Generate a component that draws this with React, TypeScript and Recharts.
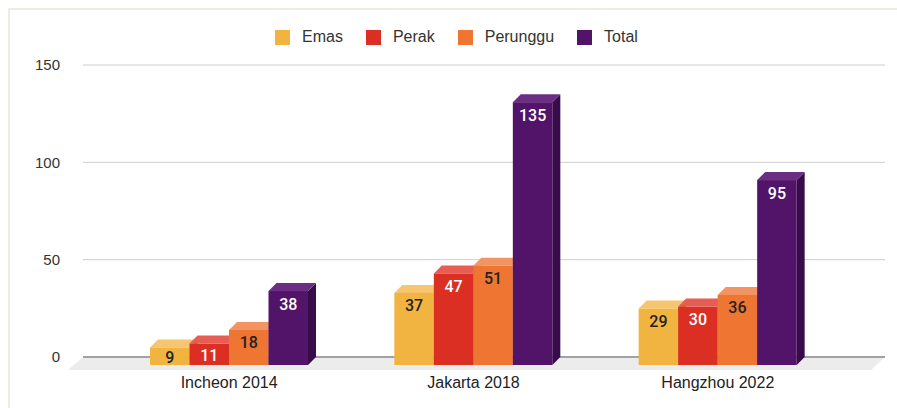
import { BarChart, Bar, XAxis, YAxis, CartesianGrid, ReferenceLine } from "recharts";

const games = ["Incheon 2014", "Jakarta 2018", "Hangzhou 2022"];
const emas = [9, 37, 29];
const perak = [11, 47, 30];
const perunggu = [18, 51, 36];
const total = [38, 135, 95];
const yTicks = [0, 50, 100, 150];

const data = games.map((game, i) => ({
  game,
  emas: emas[i],
  perak: perak[i],
  perunggu: perunggu[i],
  total: total[i],
}));

const DEPTH = 8;

const series = [
  { key: "emas", name: "Emas", front: "#f2b441", top: "#f5c66f", side: "#c78d2b", text: "#222222" },
  { key: "perak", name: "Perak", front: "#dc2f24", top: "#e65d53", side: "#a9241b", text: "#ffffff" },
  { key: "perunggu", name: "Perunggu", front: "#ee7532", top: "#f29562", side: "#bd5b24", text: "#222222" },
  { key: "total", name: "Total", front: "#521468", top: "#6b2e83", side: "#380c4a", text: "#ffffff" },
];

type S = (typeof series)[number];

// 3d box: recharts gives the back plane, the front face is pushed down-left by DEPTH
const makeBox = (s: S) => (props: any) => {
  const { x, y, width, height, payload } = props;
  const d = DEPTH;
  const fx = x - d;
  const fy = y + d;
  const value = payload[s.key];
  const ly = fy + Math.min(13, height / 2 + 1);
  return (
    <g>
      <polygon
        points={`${fx + width},${fy} ${x + width},${y} ${x + width},${y + height} ${fx + width},${fy + height}`}
        fill={s.side}
      />
      <polygon points={`${fx},${fy} ${x},${y} ${x + width},${y} ${fx + width},${fy}`} fill={s.top} />
      <rect x={fx} y={fy} width={width} height={height} fill={s.front} />
      <text
        x={fx + width / 2}
        y={ly}
        textAnchor="middle"
        dominantBaseline="central"
        fill={s.text}
        style={{ fontFamily: "Roboto, sans-serif", fontWeight: 500, fontSize: 16 }}
      >
        {value}
      </text>
    </g>
  );
};

// floor under the baseline plus the dark zero line
const Floor = (props: any) => {
  const { x1, y1, x2 } = props;
  return (
    <g>
      <polygon points={`${x1},${y1} ${x2},${y1} ${x2 - 14},${y1 + 13} ${x1 - 15},${y1 + 13}`} fill="#ececec" />
      <line x1={x1} y1={y1} x2={x2} y2={y1} stroke="#8a8a8a" strokeWidth={1.5} />
    </g>
  );
};

export default function App() {
  return (
    <div
      style={{
        position: "absolute",
        left: 0,
        top: 0,
        width: 897,
        height: 408,
        background: "#fff",
        fontFamily: "'Liberation Sans', Arial, sans-serif",
      }}
    >
      <div
        style={{
          position: "absolute",
          left: 8,
          top: 8,
          right: 0,
          bottom: 0,
          borderLeft: "2px solid #efece4",
          borderTop: "2px solid #efece4",
        }}
      />
      <div
        style={{
          position: "absolute",
          top: 28,
          left: 275,
          display: "flex",
          alignItems: "center",
          fontSize: 16,
          color: "#333",
        }}
      >
        {series.map((s) => (
          <div key={s.key} style={{ display: "flex", alignItems: "center", marginRight: 23 }}>
            <span style={{ width: 15, height: 15, background: s.front, marginRight: 12, display: "inline-block" }} />
            <span>{s.name}</span>
          </div>
        ))}
      </div>
      <div style={{ position: "absolute", left: 0, top: 0 }}>
        <BarChart
          width={897}
          height={408}
          data={data}
          margin={{ top: 65, right: 12, bottom: 21, left: 0 }}
          barGap={0}
          barSize={39.5}
        >
          <CartesianGrid vertical={false} stroke="#cfcfcf" />
          <ReferenceLine y={0} shape={Floor} zIndex={-10} />
          <XAxis
            dataKey="game"
            axisLine={false}
            tickLine={false}
            height={30}
            tickMargin={14}
            padding={{ left: 32, right: 37 }}
            tick={{ fill: "#222", fontSize: 16, dx: -8 }}
          />
          <YAxis
            domain={[0, 150]}
            ticks={yTicks}
            width={83}
            axisLine={false}
            tickLine={false}
            tickMargin={17}
            tick={{ fill: "#333", fontSize: 15 }}
          />
          {series.map((s) => (
            <Bar key={s.key} dataKey={s.key} name={s.name} shape={makeBox(s)} isAnimationActive={false} />
          ))}
        </BarChart>
      </div>
    </div>
  );
}
